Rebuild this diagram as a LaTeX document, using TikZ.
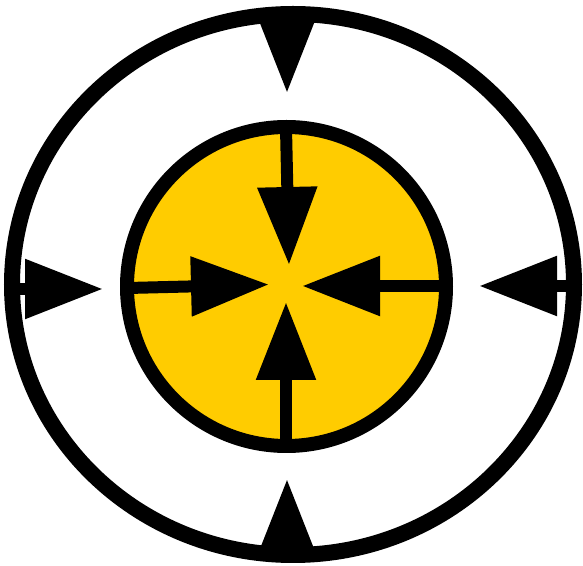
\documentclass[tikz,border=0pt]{standalone}
\usetikzlibrary{arrows.meta}
\definecolor{signyellow}{HTML}{FFCC00}
\begin{document}
\begin{tikzpicture}[
    x=0.75pt,
    y=-0.75pt,
    ring/.style={
        draw=black,
        line width=12pt
    },
    disc/.style={
        draw=black,
        fill=signyellow,
        line width=10.5pt
    },
    push/.style={
        line width=9pt,
        -{Triangle[length=58.5pt,width=42.75pt]}
    }
]

\useasboundingbox (0,0) rectangle (583,566);

\coordinate (O)  at (293,284.5);
\coordinate (C)  at (286.5,286.5);

\draw[ring] (O) ellipse [x radius=281, y radius=270.5];
\draw[disc] (C) circle [radius=159.5];

\coordinate (oN) at (287,14);
\coordinate (oS) at (287,555);
\coordinate (oW) at (13,289);
\coordinate (oE) at (574,286);

\coordinate (tN) at (287,93);
\coordinate (tS) at (287,479);
\coordinate (tW) at (103,289);
\coordinate (tE) at (479,286);

\draw[push] (oN)--(tN);
\draw[push] (oS)--(tS);
\draw[push] (oW)--(tW);
\draw[push] (oE)--(tE);

\coordinate (iN) at (286,128);
\coordinate (iS) at (286,445);
\coordinate (iW) at (128,288);
\coordinate (iE) at (445,286);

\coordinate (cN) at (289,265);
\coordinate (cS) at (286,302);
\coordinate (cW) at (269,284.5);
\coordinate (cE) at (302,286);

\draw[push] (iN)--(cN);
\draw[push] (iS)--(cS);
\draw[push] (iW)--(cW);
\draw[push] (iE)--(cE);

\end{tikzpicture}
\end{document}
